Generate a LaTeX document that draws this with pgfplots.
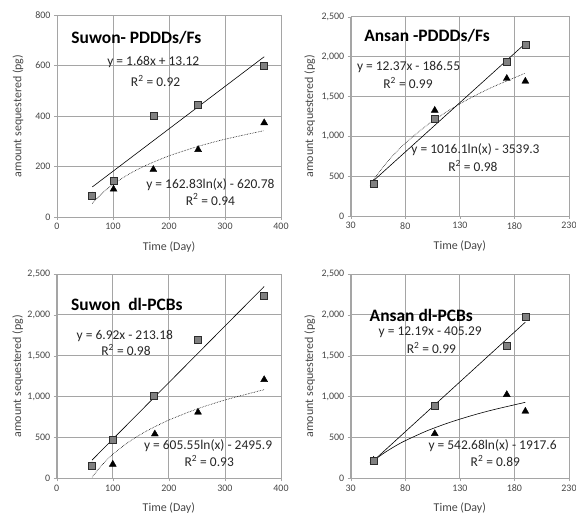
\documentclass[border=0pt]{standalone}
\usepackage{pgfplots}
\pgfplotsset{compat=1.18}
\usepackage{fontspec}
\setmainfont{Carlito}
\definecolor{gridc}{RGB}{165,165,165}
\definecolor{sqfill}{RGB}{128,128,128}
\definecolor{sqdraw}{RGB}{45,45,45}
\definecolor{tickc}{RGB}{70,70,70}
\tikzset{
 eq/.style={font=\fontsize{13.5}{15}\selectfont, text=black!85},
 ttl/.style={font=\fontsize{17.5}{19}\selectfont\bfseries, anchor=west},
}
\pgfplotsset{
 panel/.style={
  scale only axis,
  axis line style={gridc},
  grid=major, grid style={gridc, line width=0.8bp},
  major tick style={gridc},
  tick align=outside,
  major tick length=3bp,
  xtick pos=left, ytick pos=left,
  /pgf/number format/assume math mode=true,
  /pgf/number format/1000 sep={,},
  scaled ticks=false,
  tick label style={font=\fontsize{10}{12}\selectfont, text=tickc},
  label style={font=\fontsize{12}{14}\selectfont, text=tickc},
  xlabel={Time (Day)},
  ylabel={amount sequestered (pg)},
  xlabel style={at={(axis description cs:0.5,0)}, anchor=center, yshift=-30bp},
  clip=false,
 },
 sq/.style={only marks, mark=square*, mark size=3.5bp, mark options={fill=sqfill, draw=sqdraw, line width=0.6bp}},
 tri/.style={only marks, mark=triangle*, mark size=4bp, mark options={fill=black, draw=black}},
 lin/.style={black, line width=0.6bp, mark=none},
 lnf/.style={black, line width=0.6bp, densely dotted, mark=none, smooth},
 lns/.style={black, line width=0.6bp, mark=none, smooth},
}
\begin{document}
\begin{tikzpicture}
\useasboundingbox (0bp,0bp) rectangle (576bp,516bp);

% Panel 1: Suwon PDDDs/Fs
\begin{axis}[panel, at={(57bp,299bp)}, anchor=south west, width=224bp, height=202bp,
  xmin=0, xmax=400, ymin=0, ymax=800, xtick={0,100,...,400}, ytick={0,200,...,800},
  ylabel style={at={(axis description cs:-0.174,0.5)}, anchor=center}]
\addplot[lin] coordinates {(63,118.96) (370,634.72)};
\addplot[lnf] coordinates {(63,53.9) (80,92.7) (100,129.1) (130,171.8) (160,205.6) (200,241.9) (250,278.3) (300,308.0) (370,342.1)};
\addplot[tri] coordinates {(63,82) (101,110) (172,188) (252,267) (370,373)};
\addplot[sq] coordinates {(63,83) (101,144) (172,402) (252,444) (370,598)};
\node[ttl] at (rel axis cs:0.049,0.886) {Suwon- PDDDs/Fs};
\node[eq] at (axis cs:172,612) {y = 1.68x + 13.12};
\node[eq] at (axis cs:176,540) {R\textsuperscript{2} = 0.92};
\node[eq] at (axis cs:274,130) {y = 162.83ln(x) - 620.78};
\node[eq] at (axis cs:274,69) {R\textsuperscript{2} = 0.94};
\end{axis}

% Panel 2: Ansan PDDDs/Fs
\begin{axis}[panel, at={(350.7bp,300bp)}, anchor=south west, width=218.3bp, height=199.3bp,
  xmin=30, xmax=230, ymin=0, ymax=2500, xtick={30,80,...,230}, ytick={0,500,...,2500},
  ylabel style={at={(axis description cs:-0.188,0.5)}, anchor=center}]
\addplot[lin] coordinates {(51,444.3) (190,2163.7)};
\addplot[lnf] coordinates {(51,455.9) (60,620.9) (70,777.6) (80,913.3) (100,1140.1) (120,1325.3) (140,1481.9) (160,1617.7) (190,1792.2)};
\addplot[tri] coordinates {(51,405) (107,1325) (173,1725) (190,1690)};
\addplot[sq] coordinates {(51,400) (107,1215) (173,1935) (190,2145)};
\node[ttl] at (rel axis cs:0.046,0.903) {Ansan -PDDDs/Fs};
\node[eq] at (axis cs:83,1873) {y = 12.37x - 186.55};
\node[eq] at (axis cs:82.5,1665) {R\textsuperscript{2} = 0.99};
\node[eq] at (axis cs:144.3,836) {y = 1016.1ln(x) - 3539.3};
\node[eq] at (axis cs:142,631) {R\textsuperscript{2} = 0.98};
\end{axis}

% Panel 3: Suwon dl-PCBs
\begin{axis}[panel, at={(56.7bp,37.7bp)}, anchor=south west, width=224.3bp, height=204.3bp,
  xmin=0, xmax=400, ymin=0, ymax=2500, xtick={0,100,...,400}, ytick={0,500,...,2500},
  ylabel style={at={(axis description cs:-0.173,0.5)}, anchor=center}]
\addplot[lin] coordinates {(63,222.8) (370,2347.2)};
\addplot[lnf] coordinates {(63,13.0) (80,157.6) (100,292.8) (130,451.6) (160,577.4) (200,712.5) (250,847.6) (300,958.0) (370,1085.0)};
\addplot[tri] coordinates {(63,150) (100,171) (175,542) (252,808) (370,1207)};
\addplot[sq] coordinates {(63,150) (100,469) (173,1015) (252,1697) (370,2235)};
\node[ttl] at (rel axis cs:0.049,0.853) {Suwon\ \ dl-PCBs};
\node[eq] at (axis cs:121.5,1741) {y = 6.92x - 213.18};
\node[eq] at (axis cs:123.6,1566) {R\textsuperscript{2} = 0.98};
\node[eq] at (axis cs:270,399) {y = 605.55ln(x) - 2495.9};
\node[eq] at (axis cs:272,208) {R\textsuperscript{2} = 0.93};
\end{axis}

% Panel 4: Ansan dl-PCBs
\begin{axis}[panel, at={(350.7bp,37.7bp)}, anchor=south west, width=218.3bp, height=204.3bp,
  xmin=30, xmax=230, ymin=0, ymax=2500, xtick={30,80,...,230}, ytick={0,500,...,2500},
  ylabel style={at={(axis description cs:-0.188,0.5)}, anchor=center}]
\addplot[lin] coordinates {(51,216.4) (190,1910.8)};
\addplot[lns] coordinates {(51,216.1) (60,304.3) (70,388.0) (80,460.4) (100,581.6) (120,680.5) (140,764.1) (160,836.6) (190,929.8)};
\addplot[tri] coordinates {(51,220) (107,546) (173,1024) (190,820)};
\addplot[sq] coordinates {(51,220) (107,885) (173,1627) (190,1974)};
\node[ttl] at (rel axis cs:0.071,0.795) {Ansan dl-PCBs};
\node[eq] at (axis cs:102.8,1785) {y = 12.19x - 405.29};
\node[eq] at (axis cs:103.9,1595) {R\textsuperscript{2} = 0.99};
\node[eq] at (axis cs:160,404) {y = 542.68ln(x) - 1917.6};
\node[eq] at (axis cs:162.5,208) {R\textsuperscript{2} = 0.89};
\end{axis}
\end{tikzpicture}
\end{document}
